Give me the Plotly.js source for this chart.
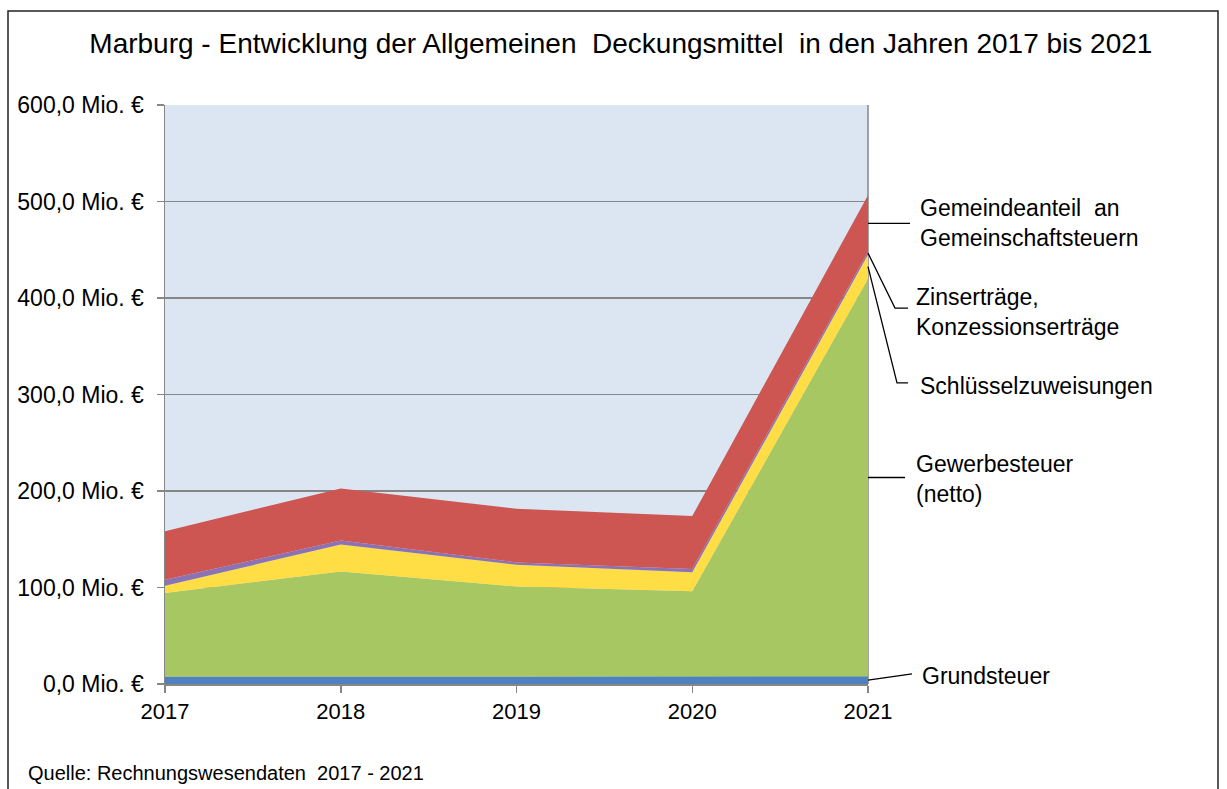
<!DOCTYPE html>
<html lang="de">

<head>
    <meta charset="UTF-8">
    <title>Marburg - Allgemeine Deckungsmittel</title>
    <script src="https://cdn.plot.ly/plotly-3.0.1.min.js" charset="utf-8"></script>
    <style>
        body { margin: 0; background: #fff; }
    </style>
</head>

<body>
    <div id="plot" style="width: 1227px; height: 789px;"></div>

    <script>
        // values in Mio. EUR
        const years = [2017, 2018, 2019, 2020, 2021];
        const grundsteuer = [7.8, 7.8, 7.9, 8.0, 8.0];
        const gewerbesteuer = [86.5, 108.9, 93.2, 88.0, 412.0];
        const schluesselzuweisungen = [7.6, 27.8, 22.6, 19.7, 25.0];
        const zinsKonzession = [6.1, 4.1, 2.3, 3.5, 3.0];
        const gemeindeanteil = [50.3, 54.1, 55.6, 54.8, 58.5];

        const seriesNames = ['Grundsteuer', 'Gewerbesteuer<br>(netto)', 'Schlüsselzuweisungen',
            'Zinserträge,<br>Konzessionserträge', 'Gemeindeanteil  an<br>Gemeinschaftsteuern'];
        const seriesColors = ['#4f81bd', '#a6c761', '#ffdd44', '#8a72b4', '#cd5652'];
        const seriesValues = [grundsteuer, gewerbesteuer, schluesselzuweisungen, zinsKonzession, gemeindeanteil];

        // label placement on the right (y in axis units, x offset in px from plot edge)
        const labelY = [8.3, 212, 309, 386, 478];
        const labelShift = [52, 46, 50, 46, 50];
        // leader bend: [px offset of bend, y of bend, px offset of end]
        const leaderBend = [[44, 10.4, 44], [37, 214, 37], [29, 312, 40], [27, 389.6, 40], [42, null, 42]];

        const font = 'Liberation Sans, Arial, sans-serif';
        const M = { l: 165, r: 359, t: 105, b: 105 };
        const W = 1227, H = 789;

        const traces = seriesValues.map((vals, i) => ({
            x: years,
            y: vals,
            type: 'scatter',
            mode: 'lines',
            stackgroup: 'one',
            line: { width: 0 },
            fillcolor: seriesColors[i],
            name: seriesNames[i],
            hoverinfo: 'skip'
        }));

        // mid of each band in the last year
        const last = years.length - 1;
        let base = 0;
        const bandMid = seriesValues.map(vals => {
            const mid = base + vals[last] / 2;
            base += vals[last];
            return mid;
        });

        const shapes = [];
        const annotations = [];
        seriesNames.forEach((name, i) => {
            const b = leaderBend[i];
            const yEnd = b[1] === null ? bandMid[i] : b[1];
            shapes.push({
                type: 'path',
                xref: 'paper', xsizemode: 'pixel', xanchor: 1,
                yref: 'y',
                path: `M0,${bandMid[i]} L${b[0]},${yEnd} L${b[2]},${yEnd}`,
                line: { color: '#000', width: 1.3 }
            });
            annotations.push({
                xref: 'paper', x: 1, xshift: labelShift[i], xanchor: 'left',
                yref: 'y', y: labelY[i], yanchor: 'middle',
                text: name, showarrow: false, align: 'left',
                font: { family: font, size: 23, color: '#000' }
            });
        });

        // plot area right border (below the areas)
        shapes.push({
            type: 'line', xref: 'paper', yref: 'paper', x0: 1, x1: 1, y0: 0, y1: 1,
            layer: 'below', line: { color: '#868686', width: 1.5 }
        });

        // outer frame
        const pw = W - M.l - M.r, ph = H - M.t - M.b;
        shapes.push({
            type: 'rect', xref: 'paper', yref: 'paper',
            x0: (8 - M.l) / pw, x1: (1218 - M.l) / pw,
            y0: (H - M.b - 800) / ph, y1: (H - M.b - 11) / ph,
            line: { color: '#222', width: 1.5 }
        });

        annotations.push({
            xref: 'paper', yref: 'paper',
            x: (26 - M.l) / pw, xanchor: 'left',
            y: (H - M.b - 773) / ph, yanchor: 'middle',
            text: 'Quelle: Rechnungswesendaten  2017 - 2021',
            showarrow: false,
            font: { family: font, size: 20, color: '#000' }
        });

        const layout = {
            width: W,
            height: H,
            margin: M,
            paper_bgcolor: '#fff',
            plot_bgcolor: '#dce6f2',
            showlegend: false,
            separators: ',.',
            font: { family: font, color: '#000' },
            title: {
                text: 'Marburg - Entwicklung der Allgemeinen  Deckungsmittel  in den Jahren 2017 bis 2021',
                font: { family: font, size: 28, color: '#000' },
                x: 0.506, xanchor: 'center', y: 0.945, yanchor: 'middle'
            },
            xaxis: {
                range: [2017, 2021],
                tickvals: years,
                ticktext: years.map(String),
                ticks: 'outside', ticklen: 7, tickcolor: '#868686', tickwidth: 1.5,
                showline: true, linecolor: '#868686', linewidth: 1.5,
                showgrid: false, zeroline: false,
                tickfont: { family: font, size: 22, color: '#000' }
            },
            yaxis: {
                range: [0, 600],
                dtick: 100,
                tickformat: '.1f',
                ticksuffix: ' Mio. €',
                ticks: 'outside', ticklen: 7, tickcolor: '#868686', tickwidth: 1.5,
                ticklabelstandoff: 8,
                showline: true, linecolor: '#868686', linewidth: 1.5,
                showgrid: true, gridcolor: '#868686', gridwidth: 1.5,
                zeroline: false,
                tickfont: { family: font, size: 23, color: '#000' }
            },
            shapes: shapes,
            annotations: annotations
        };

        Plotly.newPlot('plot', traces, layout, { displayModeBar: false, staticPlot: true });
    </script>
</body>

</html>
